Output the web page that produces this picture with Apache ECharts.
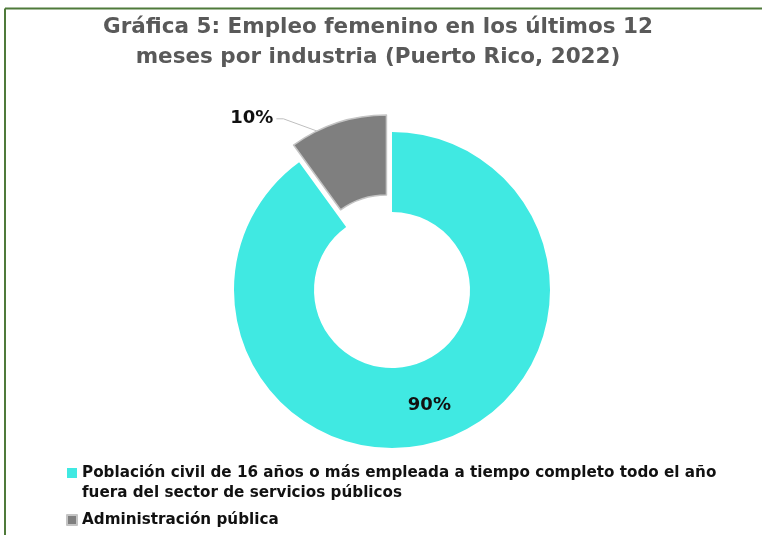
<!DOCTYPE html>
<html>
<head>
<meta charset="utf-8">
<script src="https://cdn.jsdelivr.net/npm/echarts@6/dist/echarts.min.js"></script>
<style>
  html, body { margin: 0; padding: 0; background: #fff; }
  #main { width: 762px; height: 535px; }
</style>
</head>
<body>
<div id="main"></div>
<script>
// datos de la gráfica
var categories = [
    'Población civil de 16 años o más empleada a tiempo completo todo el año fuera del sector de servicios públicos',
    'Administración pública'
];
var values = [90, 10];
var colors = ['#40e9e2', '#7f7f7f'];
// texto de la leyenda partido en líneas (línea vacía arriba para alinear el icono con la primera línea)
var legendText = [
    '\nPoblación civil de 16 años o más empleada a tiempo completo todo el año\nfuera del sector de servicios públicos',
    'Administración pública'
];

var CENTER = [392, 290];
var RADIUS = [78, 158];
var OFFSET = 18;
var FONT = 'DejaVu Sans';

var myChart = echarts.init(document.getElementById('main'));

// punto medio de la rebanada desplazada, para la línea guía
function sliceMidPoint(index) {
    var total = values.reduce(function (a, b) { return a + b; }, 0);
    var before = 0;
    for (var i = 0; i < index; i++) before += values[i];
    var midDeg = 90 - (before + values[index] / 2) / total * 360;
    var rad = midDeg * Math.PI / 180;
    var r = OFFSET + (RADIUS[0] + RADIUS[1]) / 2 + 3;
    return [CENTER[0] + r * Math.cos(rad), CENTER[1] - r * Math.sin(rad)];
}

var pieData = categories.map(function (name, i) {
    var item = {
        name: name,
        value: values[i],
        itemStyle: { color: colors[i] }
    };
    if (i === 1) {
        item.selected = true;
        item.itemStyle.borderColor = '#c4c4c4';
        item.itemStyle.borderWidth = 1.5;
        item.label = { position: 'outside' };
        item.labelLine = { show: true, showAbove: true };
    }
    return item;
});

var option = {
    animation: false,
    title: {
        text: 'Gráfica 5: Empleo femenino en los últimos 12\nmeses por industria (Puerto Rico, 2022)',
        left: 373,
        textAlign: 'center',
        top: 7,
        textStyle: {
            fontFamily: FONT,
            fontWeight: 'bold',
            fontSize: 21.5,
            lineHeight: 30,
            color: '#595959'
        }
    },
    legend: {
        orient: 'vertical',
        left: 61,
        top: 438,
        itemGap: 7,
        itemWidth: 10,
        itemHeight: 10,
        icon: 'rect',
        selectedMode: false,
        formatter: function (name) {
            return legendText[categories.indexOf(name)];
        },
        textStyle: {
            fontFamily: FONT,
            fontWeight: 'bold',
            fontSize: 15.2,
            lineHeight: 20,
            color: '#111'
        },
        data: categories
    },
    graphic: [
        { type: 'line', shape: { x1: 5, y1: 8.5, x2: 762, y2: 8.5 }, style: { stroke: '#4f7a3a', lineWidth: 2 } },
        { type: 'line', shape: { x1: 5, y1: 8.5, x2: 5, y2: 535 }, style: { stroke: '#4f7a3a', lineWidth: 2 } }
    ],
    series: [{
        type: 'pie',
        center: CENTER,
        radius: RADIUS,
        startAngle: 90,
        clockwise: true,
        selectedMode: 'single',
        selectedOffset: OFFSET,
        emphasis: { disabled: true },
        label: {
            show: true,
            position: 'inside',
            formatter: '{d}%',
            fontFamily: FONT,
            fontWeight: 'bold',
            fontSize: 18,
            color: '#111'
        },
        labelLine: {
            show: false,
            showAbove: true,
            length: 4,
            length2: 58,
            lineStyle: { color: '#bfbfbf', width: 1 }
        },
        labelLayout: function (params) {
            if (params.dataIndex !== 1) return {};
            var r = params.labelRect;
            var p = sliceMidPoint(1);
            var ly = r.y + r.height / 2;
            var rx = r.x + r.width;
            return {
                labelLinePoints: [p, [rx + 10, ly], [rx + 3, ly]]
            };
        },
        data: pieData
    }]
};

myChart.setOption(option);
</script>
</body>
</html>
